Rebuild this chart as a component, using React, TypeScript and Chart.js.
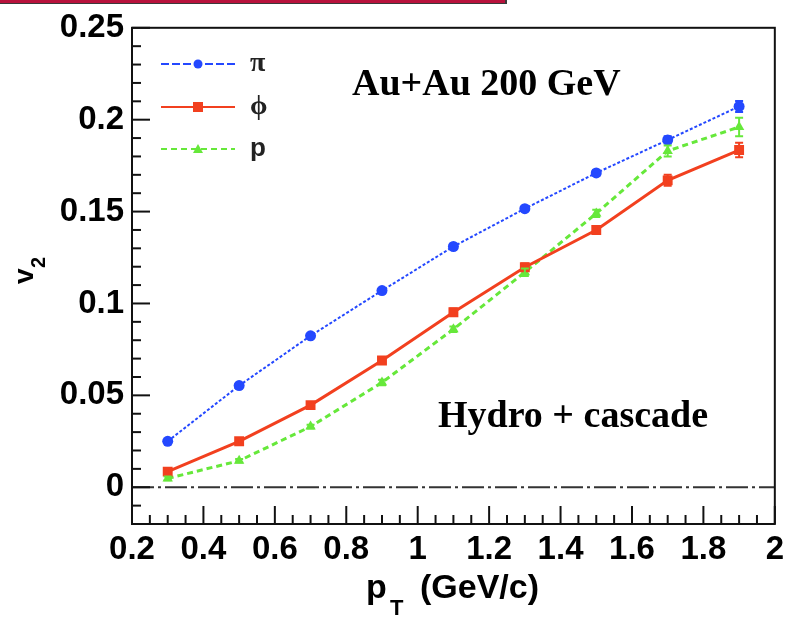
import React, { useEffect, useRef } from "react";
import { Chart, registerables } from "chart.js";

Chart.register(...registerables);

// ---- data ----
const ptValues = [0.3, 0.5, 0.7, 0.9, 1.1, 1.3, 1.5, 1.7, 1.9];
const piV2 = [0.025, 0.0553, 0.0824, 0.107, 0.131, 0.1516, 0.171, 0.189, 0.2072];
const piErr = [0.001, 0.001, 0.001, 0.001, 0.001, 0.001, 0.0015, 0.002, 0.003];
const phiV2 = [0.0085, 0.025, 0.0447, 0.069, 0.0952, 0.1197, 0.14, 0.167, 0.1835];
const phiErr = [0.0015, 0.0015, 0.0015, 0.0015, 0.002, 0.002, 0.002, 0.003, 0.004];
const protonV2 = [0.0048, 0.0144, 0.033, 0.057, 0.086, 0.117, 0.149, 0.183, 0.196];
const protonErr = [0.001, 0.001, 0.001, 0.0015, 0.0015, 0.002, 0.002, 0.003, 0.005];

const seriesNames = ["π", "ϕ", "p"];
const xTickValues = [0.2, 0.4, 0.6, 0.8, 1.0, 1.2, 1.4, 1.6, 1.8, 2.0];
const yTickValues = [0, 0.05, 0.1, 0.15, 0.2, 0.25];
const xRange = [0.2, 2.0];
const yRange = [-0.02, 0.25];

const BLUE = "#2448ff";
const RED = "#f2401f";
const GREEN = "#66e83a";

const fmt = (v: number) => String(Number(v.toFixed(3)));

const decorPlugin = {
  id: "decor",
  afterDatasetsDraw(chart: any) {
    const { ctx, chartArea, scales } = chart;
    const xs = scales.x;
    const ys = scales.y;
    ctx.save();
    // zero line
    ctx.strokeStyle = "#333";
    ctx.lineWidth = 2;
    ctx.setLineDash([22, 4, 3, 4]);
    ctx.beginPath();
    ctx.moveTo(chartArea.left, ys.getPixelForValue(0));
    ctx.lineTo(chartArea.right, ys.getPixelForValue(0));
    ctx.stroke();
    ctx.setLineDash([]);

    // error bars
    const errSets = [
      [piV2, piErr, BLUE],
      [phiV2, phiErr, RED],
      [protonV2, protonErr, GREEN],
    ] as any[];
    errSets.forEach(([vals, errs, col]) => {
      ctx.strokeStyle = col;
      ctx.lineWidth = 2;
      vals.forEach((v: number, i: number) => {
        const x = xs.getPixelForValue(ptValues[i]);
        const y1 = ys.getPixelForValue(v - errs[i]);
        const y2 = ys.getPixelForValue(v + errs[i]);
        ctx.beginPath();
        ctx.moveTo(x, y1);
        ctx.lineTo(x, y2);
        ctx.moveTo(x - 4, y1);
        ctx.lineTo(x + 4, y1);
        ctx.moveTo(x - 4, y2);
        ctx.lineTo(x + 4, y2);
        ctx.stroke();
      });
    });
    ctx.restore();
  },
  afterDraw(chart: any) {
    const { ctx, chartArea, scales } = chart;
    const xs = scales.x;
    const ys = scales.y;
    ctx.save();
    // frame
    ctx.strokeStyle = "#111";
    ctx.lineWidth = 2;
    ctx.strokeRect(chartArea.left, chartArea.top, chartArea.right - chartArea.left, chartArea.bottom - chartArea.top);

    // y ticks (inside, left)
    ctx.lineWidth = 2;
    for (let k = Math.round(yRange[0] * 100); k <= Math.round(yRange[1] * 100); k++) {
      const v = k / 100;
      const y = ys.getPixelForValue(v);
      const major = k % 5 === 0;
      ctx.beginPath();
      ctx.moveTo(chartArea.left, y);
      ctx.lineTo(chartArea.left + (major ? 18 : 9), y);
      ctx.stroke();
    }
    // x ticks (inside, bottom)
    for (let k = Math.round(xRange[0] * 20); k <= Math.round(xRange[1] * 20); k++) {
      const v = k / 20;
      const x = xs.getPixelForValue(v);
      const major = k % 4 === 0;
      ctx.beginPath();
      ctx.moveTo(x, chartArea.bottom);
      ctx.lineTo(x, chartArea.bottom - (major ? 18 : 9));
      ctx.stroke();
    }

    // legend
    const legendRows = [
      { y: 64, color: BLUE, dash: [8, 3], style: "circle" },
      { y: 107, color: RED, dash: [], style: "rect" },
      { y: 149, color: GREEN, dash: [6, 4], style: "triangle" },
    ];
    legendRows.forEach((r, i) => {
      ctx.strokeStyle = r.color;
      ctx.fillStyle = r.color;
      ctx.lineWidth = 2;
      ctx.setLineDash(r.dash);
      ctx.beginPath();
      ctx.moveTo(161, r.y);
      ctx.lineTo(235, r.y);
      ctx.stroke();
      ctx.setLineDash([]);
      const mx = 198;
      ctx.beginPath();
      if (r.style === "circle") {
        ctx.arc(mx, r.y, 4.5, 0, Math.PI * 2);
      } else if (r.style === "rect") {
        ctx.rect(mx - 5, r.y - 5, 10, 10);
      } else {
        ctx.moveTo(mx, r.y - 5);
        ctx.lineTo(mx + 5, r.y + 4);
        ctx.lineTo(mx - 5, r.y + 4);
        ctx.closePath();
      }
      ctx.fill();
      ctx.fillStyle = "#222";
      ctx.textAlign = "left";
      ctx.textBaseline = "middle";
      ctx.font = i === 2 ? "bold 26px 'Liberation Sans'" : "bold 28px 'Liberation Serif'";
      ctx.fillText(seriesNames[i], 250, r.y + (i === 2 ? 0 : 0));
    });

    // annotations
    ctx.fillStyle = "#000";
    ctx.textBaseline = "alphabetic";
    ctx.textAlign = "left";
    ctx.font = "bold 38px 'Liberation Serif'";
    ctx.fillText("Au+Au 200 GeV", 352, 95);
    ctx.fillText("Hydro + cascade", 438, 427);

    // x title
    ctx.font = "bold 34px 'Liberation Sans'";
    ctx.fillText("p", 366, 598);
    ctx.font = "bold 22px 'Liberation Sans'";
    ctx.fillText("T", 390, 615);
    ctx.font = "bold 34px 'Liberation Sans'";
    ctx.fillText("(GeV/c)", 420, 598);

    // y title
    ctx.save();
    ctx.translate(33, 284);
    ctx.rotate(-Math.PI / 2);
    ctx.font = "bold 28px 'Liberation Sans'";
    ctx.fillText("v", 0, 0);
    ctx.font = "bold 20px 'Liberation Sans'";
    ctx.fillText("2", 16, 12);
    ctx.restore();

    ctx.restore();
  },
};

export default function App() {
  const ref = useRef<HTMLCanvasElement | null>(null);
  useEffect(() => {
    if (!ref.current) return;
    const mk = (vals: number[]) => vals.map((v, i) => ({ x: ptValues[i], y: v }));
    const chart = new Chart(ref.current, {
      type: "line",
      data: {
        datasets: [
          {
            label: seriesNames[0],
            data: mk(piV2),
            borderColor: BLUE,
            backgroundColor: BLUE,
            borderWidth: 2,
            borderDash: [3, 2],
            pointStyle: "circle",
            pointRadius: 5.5,
            pointBorderWidth: 0,
          },
          {
            label: seriesNames[1],
            data: mk(phiV2),
            borderColor: RED,
            backgroundColor: RED,
            borderWidth: 3,
            pointStyle: "rect",
            pointRadius: 7,
            pointBorderWidth: 0,
          },
          {
            label: seriesNames[2],
            data: mk(protonV2),
            borderColor: GREEN,
            backgroundColor: GREEN,
            borderWidth: 3,
            borderDash: [6, 4],
            pointStyle: "triangle",
            pointRadius: 6,
            pointBorderWidth: 0,
          },
        ],
      },
      options: {
        responsive: false,
        animation: false,
        layout: { padding: { top: 17, right: 10, left: 0, bottom: 0 } },
        plugins: { legend: { display: false }, tooltip: { enabled: false } },
        scales: {
          x: {
            type: "linear",
            min: xRange[0],
            max: xRange[1],
            grid: { display: false, drawTicks: false },
            border: { display: false },
            afterBuildTicks: (s: any) => {
              s.ticks = xTickValues.map((v) => ({ value: v }));
            },
            afterFit: (s: any) => {
              s.height = 95;
            },
            ticks: {
              autoSkip: false,
              maxRotation: 0,
              padding: 6,
              color: "#000",
              font: { family: "'Liberation Sans'", size: 33, weight: "bold" },
              callback: (v: any) => fmt(Number(v)),
            },
          },
          y: {
            type: "linear",
            min: yRange[0],
            max: yRange[1],
            grid: { display: false, drawTicks: false },
            border: { display: false },
            afterBuildTicks: (s: any) => {
              s.ticks = yTickValues.map((v) => ({ value: v }));
            },
            afterFit: (s: any) => {
              s.width = 132;
            },
            ticks: {
              autoSkip: false,
              padding: 8,
              color: "#000",
              font: { family: "'Liberation Sans'", size: 33, weight: "bold" },
              callback: (v: any) => fmt(Number(v)),
            },
          },
        },
      },
      plugins: [decorPlugin],
    });
    return () => chart.destroy();
  }, []);
  return (
    <div style={{ position: "fixed", left: 0, top: 0, width: 790, height: 619, background: "#fff" }}>
      <canvas ref={ref} width={790} height={619} style={{ position: "absolute", left: 0, top: 0 }} />
      <div style={{ position: "absolute", left: 0, top: 0, width: 508, height: 12, background: "#fff" }} />
      <div
        style={{
          position: "absolute",
          left: 0,
          top: 0,
          width: 505,
          height: 3,
          background: "#b8123c",
          borderBottom: "1px solid #3a3a3a",
          borderRight: "2px solid #3a3a3a",
        }}
      />
    </div>
  );
}
